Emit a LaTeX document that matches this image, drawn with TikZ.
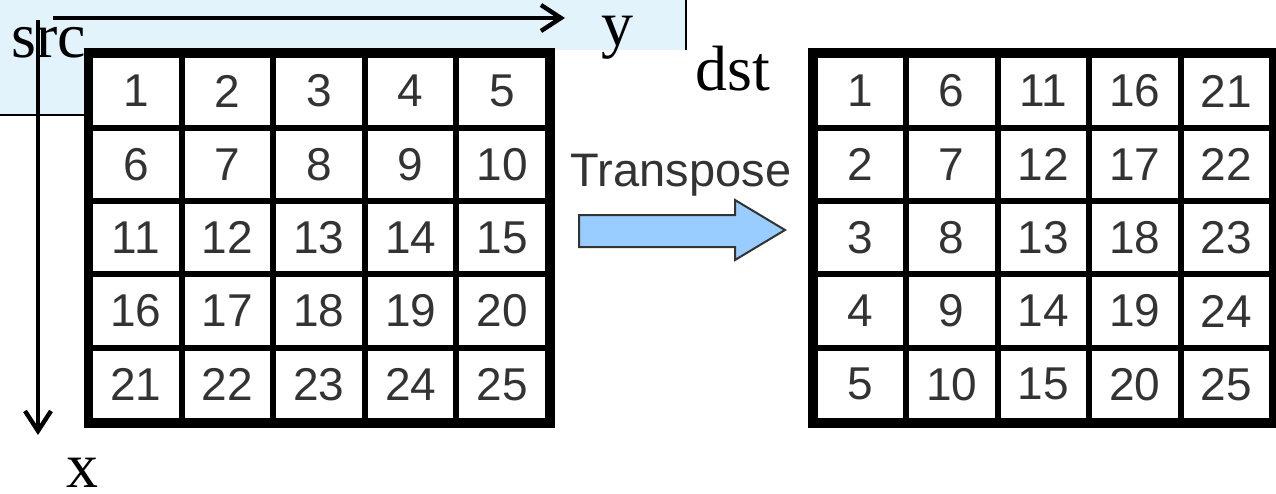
\documentclass[tikz,border=0pt]{standalone}
\usepackage{fontspec}
\setmainfont{Liberation Serif}
\newfontfamily\cellfont{Liberation Sans}
\usetikzlibrary{arrows.meta}
\definecolor{panelblue}{HTML}{E2F3FB}
\definecolor{arrowblue}{HTML}{99CCFF}
\definecolor{digitgray}{HTML}{333333}
\tikzset{
  axis/.style={line width=4.4pt, -{Straight Barb[length=20pt,width=26pt,line width=4.4pt]}},
  cell/.style={draw, line width=6pt, minimum width=#1, minimum height=73.3pt,
    inner sep=0pt, text=digitgray, font=\cellfont\fontsize{46}{46}\selectfont},
  frame/.style={draw, line width=7pt},
  lbl/.style={inner sep=0pt, anchor=base west, font=\fontsize{64}{64}\selectfont},
}
\begin{document}
\begin{tikzpicture}[x=1pt, y=-1pt]
  \useasboundingbox (0,0) rectangle (1276,493);
  % light panel behind the source labels
  \fill[panelblue] (0,0) rectangle (686,115);
  \draw[line width=2.4pt] (686,0) -- (686,50);
  \draw[line width=2.2pt] (0,115) -- (87,115);
  \fill[white] (87,50) rectangle (805,440);

  % source matrix
  \foreach \r in {1,...,5} {
    \foreach \c in {1,...,5} {
      \pgfmathtruncatemacro{\v}{(\r-1)*5+\c}
      \node[cell=91.6pt] (s-\r-\c) at ({90+(\c-0.5)*91.6},{54.5+(\r-0.5)*73.3}) {\v};
    }
  }
  \draw[frame] (s-1-1.north west) rectangle (s-5-5.south east);

  % transposed matrix
  \foreach \r in {1,...,5} {
    \foreach \c in {1,...,5} {
      \pgfmathtruncatemacro{\v}{(\c-1)*5+\r}
      \node[cell=91.5pt] (d-\r-\c) at ({814.5+(\c-0.5)*91.5},{54.5+(\r-0.5)*73.3}) {\v};
    }
  }
  \draw[frame] (d-1-1.north west) rectangle (d-5-5.south east);

  % labels
  \node[lbl] (src) at (11,57) {src};
  \node[lbl] (dst) at (695,90) {dst};
  \node[lbl] (ylab) at (601,45) {y};
  \node[lbl] (xlab) at (66,487) {x};

  % axes
  \coordinate (yfrom) at (53,18);
  \coordinate (yto) at (565,18);
  \coordinate (xfrom) at (38,20);
  \coordinate (xto) at (38,435);
  \draw[axis] (yfrom) -- (yto);
  \draw[axis] (xfrom) -- (xto);

  % transpose arrow
  \node[inner sep=0pt, text=digitgray, font=\cellfont\fontsize{47}{47}\selectfont,
        anchor=base] (tr) at (681,186) {Transpose};
  \draw[fill=arrowblue, draw=digitgray, line width=2pt, line join=miter]
    (579,215) -- (735,215) -- (735,200) -- (785,230) -- (735,260)
    -- (735,247) -- (579,247) -- cycle;
\end{tikzpicture}
\end{document}
